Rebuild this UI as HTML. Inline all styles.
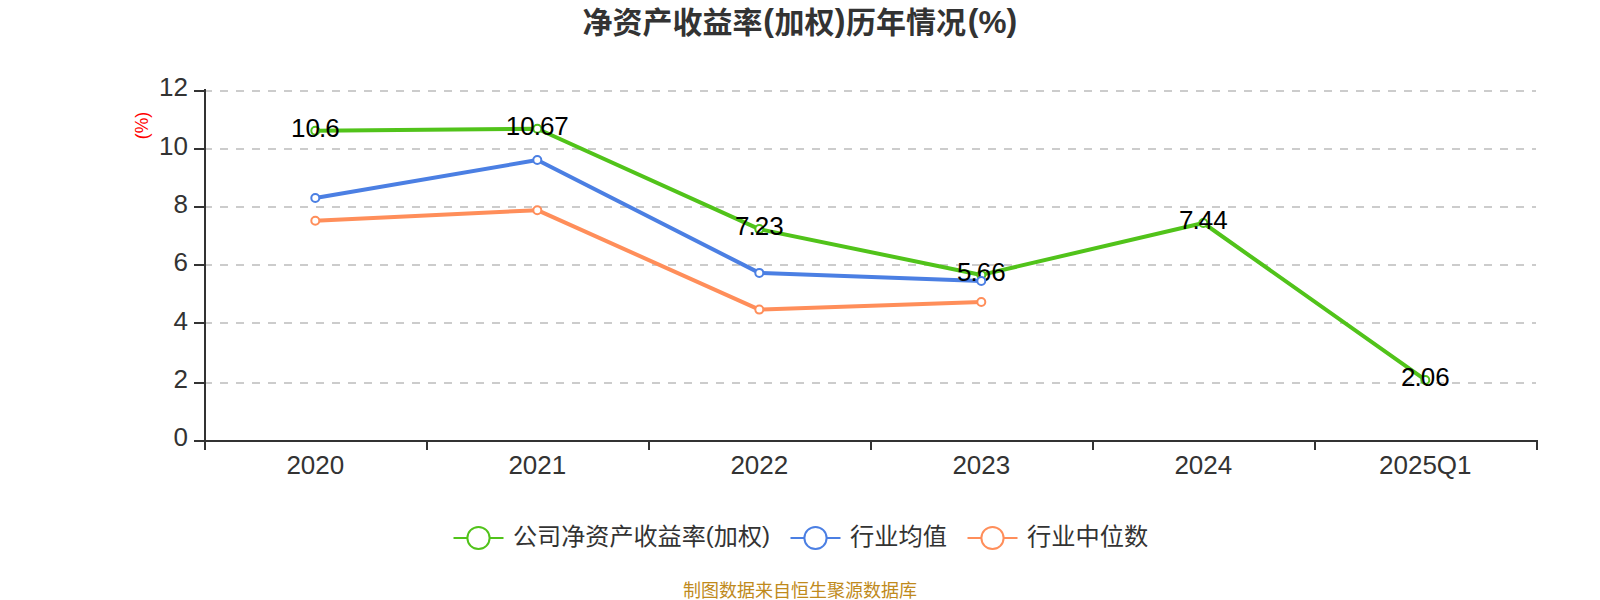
<!DOCTYPE html>
<html lang="zh-CN">
<head>
<meta charset="utf-8">
<title>净资产收益率(加权)历年情况(%)</title>
<style>
html,body{margin:0;padding:0;background:#fff;}
body{width:1600px;height:600px;overflow:hidden;}
svg{display:block;font-family:"Liberation Sans", "Noto Sans CJK SC", sans-serif;}
</style>
</head>
<body>
<svg width="1600" height="600" viewBox="0 0 1600 600">
<rect width="1600" height="600" fill="#fff"/>
<text font-weight="bold" fill="#333" font-size="30"><tspan x="582.5" y="33">净资产收益率</tspan><tspan x="763.3" y="31.3" font-size="32">(</tspan><tspan x="774.5" y="33">加权</tspan><tspan x="834.8" y="31.3" font-size="32">)</tspan><tspan x="846" y="33">历年情况</tspan><tspan x="967.8" y="31.3" font-size="32">(</tspan><tspan x="978.4" y="33.2" font-size="31.5">%</tspan><tspan x="1006.5" y="31.3" font-size="32">)</tspan></text>
<g stroke="#ccc" stroke-width="2" stroke-dasharray="8 8" fill="none">
<line x1="204" y1="383" x2="1536" y2="383"/>
<line x1="204" y1="323" x2="1536" y2="323"/>
<line x1="204" y1="265" x2="1536" y2="265"/>
<line x1="204" y1="207" x2="1536" y2="207"/>
<line x1="204" y1="149" x2="1536" y2="149"/>
<line x1="204" y1="91" x2="1536" y2="91"/>
</g>
<g stroke="#333" stroke-width="2" fill="none">
<line x1="205" y1="89" x2="205" y2="442"/>
<line x1="204" y1="441" x2="1538" y2="441"/>
<line x1="194" y1="441" x2="205" y2="441"/>
<line x1="194" y1="383" x2="205" y2="383"/>
<line x1="194" y1="323" x2="205" y2="323"/>
<line x1="194" y1="265" x2="205" y2="265"/>
<line x1="194" y1="207" x2="205" y2="207"/>
<line x1="194" y1="149" x2="205" y2="149"/>
<line x1="194" y1="91" x2="205" y2="91"/>
<line x1="205" y1="440" x2="205" y2="450"/>
<line x1="427" y1="440" x2="427" y2="450"/>
<line x1="649" y1="440" x2="649" y2="450"/>
<line x1="871" y1="440" x2="871" y2="450"/>
<line x1="1093" y1="440" x2="1093" y2="450"/>
<line x1="1315" y1="440" x2="1315" y2="450"/>
<line x1="1537" y1="440" x2="1537" y2="450"/>
</g>
<g font-size="26" fill="#333" text-anchor="end">
<text x="188" y="446.30">0</text>
<text x="188" y="387.97">2</text>
<text x="188" y="329.63">4</text>
<text x="188" y="271.30">6</text>
<text x="188" y="212.97">8</text>
<text x="188" y="154.63">10</text>
<text x="188" y="96.30">12</text>
</g>
<g font-size="26" fill="#333" text-anchor="middle">
<text x="315.3" y="474">2020</text>
<text x="537.3" y="474">2021</text>
<text x="759.3" y="474">2022</text>
<text x="981.3" y="474">2023</text>
<text x="1203.3" y="474">2024</text>
<text x="1425.3" y="474">2025Q1</text>
</g>
<text transform="translate(147.6,125.6) rotate(-90) scale(0.92,1)" text-anchor="middle" font-size="19" fill="#f00">(%)</text>
<polyline points="315.3,130.83 537.3,128.79 759.3,229.12 981.3,274.92 1203.3,223.00 1425.3,379.92" fill="none" stroke="#51c31a" stroke-width="4" stroke-linejoin="bevel"/>
<polyline points="315.3,197.92 537.3,160.00 759.3,272.88 981.3,281.04" fill="none" stroke="#4b7fe3" stroke-width="4" stroke-linejoin="bevel"/>
<polyline points="315.3,220.67 537.3,210.17 759.3,309.62 981.3,302.04" fill="none" stroke="#ff8e5a" stroke-width="4" stroke-linejoin="bevel"/>
<g fill="#fff" stroke="#51c31a" stroke-width="2">
<circle cx="315.3" cy="130.83" r="4"/>
<circle cx="537.3" cy="128.79" r="4"/>
<circle cx="759.3" cy="229.12" r="4"/>
<circle cx="981.3" cy="274.92" r="4"/>
<circle cx="1203.3" cy="223.00" r="4"/>
<circle cx="1425.3" cy="379.92" r="4"/>
</g>
<g font-size="26" fill="#000" text-anchor="middle">
<text x="315.3" y="137.13">10<tspan dx="-1">.</tspan><tspan dx="-1">6</tspan></text>
<text x="537.3" y="135.09">10<tspan dx="-1">.</tspan><tspan dx="-1">67</tspan></text>
<text x="759.3" y="235.43">7<tspan dx="-1">.</tspan><tspan dx="-1">23</tspan></text>
<text x="981.3" y="281.22">5<tspan dx="-1">.</tspan><tspan dx="-1">66</tspan></text>
<text x="1203.3" y="229.30">7<tspan dx="-1">.</tspan><tspan dx="-1">44</tspan></text>
<text x="1425.3" y="386.22">2<tspan dx="-1">.</tspan><tspan dx="-1">06</tspan></text>
</g>
<g fill="#fff" stroke="#4b7fe3" stroke-width="2">
<circle cx="315.3" cy="197.92" r="4"/>
<circle cx="537.3" cy="160.00" r="4"/>
<circle cx="759.3" cy="272.88" r="4"/>
<circle cx="981.3" cy="281.04" r="4"/>
</g>
<g fill="#fff" stroke="#ff8e5a" stroke-width="2">
<circle cx="315.3" cy="220.67" r="4"/>
<circle cx="537.3" cy="210.17" r="4"/>
<circle cx="759.3" cy="309.62" r="4"/>
<circle cx="981.3" cy="302.04" r="4"/>
</g>
<line x1="453.5" y1="538" x2="503.5" y2="538" stroke="#51c31a" stroke-width="2"/>
<circle cx="478.5" cy="538" r="11.1" fill="#fff" stroke="#51c31a" stroke-width="2"/>
<text x="513.0" y="544.6" font-size="24.1" fill="#333">公司净资产收益率<tspan dy="-1.6">(</tspan><tspan dy="1.6">加权</tspan><tspan dy="-1.6">)</tspan></text>
<line x1="790.5" y1="538" x2="840.5" y2="538" stroke="#4b7fe3" stroke-width="2"/>
<circle cx="815.5" cy="538" r="11.1" fill="#fff" stroke="#4b7fe3" stroke-width="2"/>
<text x="850.0" y="544.6" font-size="24.25" fill="#333">行业均值</text>
<line x1="967.5" y1="538" x2="1017.5" y2="538" stroke="#ff8e5a" stroke-width="2"/>
<circle cx="992.5" cy="538" r="11.1" fill="#fff" stroke="#ff8e5a" stroke-width="2"/>
<text x="1027.0" y="544.6" font-size="24.25" fill="#333">行业中位数</text>
<text x="800" y="596.8" text-anchor="middle" font-size="18" fill="#c08a1c">制图数据来自恒生聚源数据库</text>
</svg>
</body>
</html>
